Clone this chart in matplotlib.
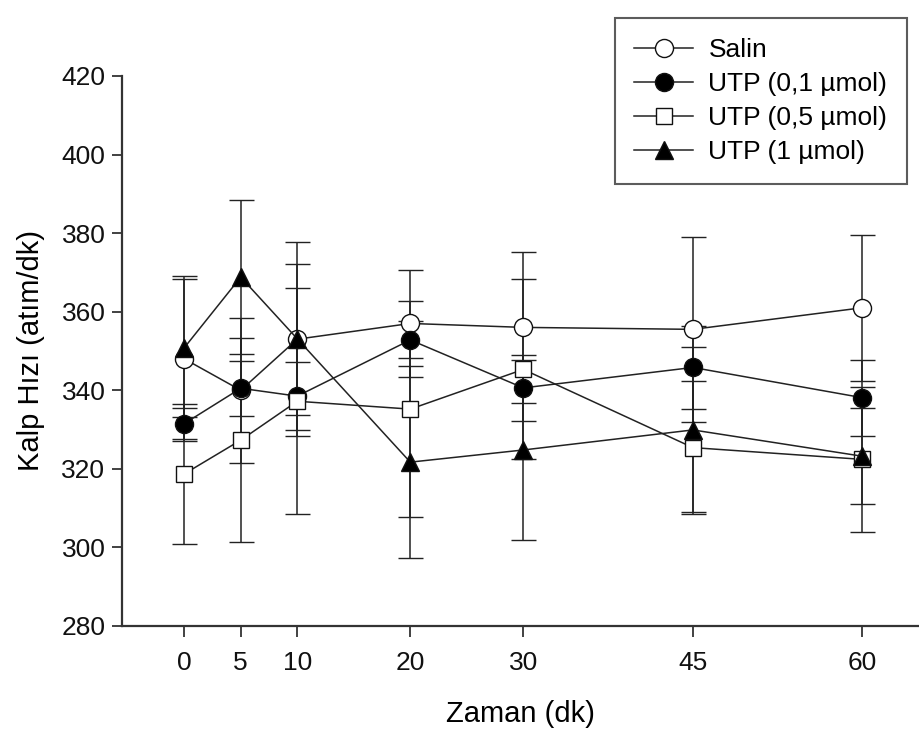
import numpy as np
import matplotlib.pyplot as plt

plt.rcParams['font.family'] = ['Liberation Sans', 'DejaVu Sans']

# time points (dk)
zaman = [0, 5, 10, 20, 30, 45, 60]

salin = [348, 340, 353, 357, 356, 355.5, 361]
salin_err = [21, 18.5, 19.2, 13.7, 19.3, 23.6, 18.6]

utp_01 = [331.5, 340.5, 338.5, 352.8, 340.6, 345.8, 338.1]
utp_01_err = [4, 7, 8.7, 4.7, 8.4, 10.5, 9.7]

utp_05 = [318.7, 327.3, 337.2, 335.2, 345.3, 325.4, 322.4]
utp_05_err = [17.8, 25.9, 28.7, 27.5, 22.9, 17, 18.5]

utp_1 = [350.8, 368.8, 353.1, 321.7, 324.8, 329.9, 323.2]
utp_1_err = [17.5, 19.5, 24.7, 24.5, 22.9, 21, 12.2]

etiketler = ['Salin', 'UTP (0,1 µmol)', 'UTP (0,5 µmol)', 'UTP (1 µmol)']
yticks = [280, 300, 320, 340, 360, 380, 400, 420]

fig = plt.figure(figsize=(9.19, 7.33), dpi=100)
ax = fig.add_axes([0.1328, 0.146, 0.8672, 0.7504])

seriler = [
    (salin, salin_err, dict(marker='o', mfc='white', ms=13)),
    (utp_01, utp_01_err, dict(marker='o', mfc='black', ms=13)),
    (utp_05, utp_05_err, dict(marker='s', mfc='white', ms=12)),
    (utp_1, utp_1_err, dict(marker='^', mfc='black', ms=13)),
]

cizgiler = []
for (y, e, stil), lab in zip(seriler, etiketler):
    c = ax.errorbar(zaman, y, yerr=e, color='#222222', lw=1.1, mec='#111111',
                    mew=1.0, elinewidth=1.1, capsize=9, capthick=1.1,
                    label=lab, **stil)
    cizgiler.append(c[0])

ax.set_xlim(-5.5, 65)
ax.set_ylim(280, 420)
ax.set_xticks(zaman)
ax.set_yticks(yticks)

for s in ['top', 'right']:
    ax.spines[s].set_visible(False)
for s in ['left', 'bottom']:
    ax.spines[s].set_linewidth(1.6)
    ax.spines[s].set_color('#333333')

ax.tick_params(axis='y', direction='out', length=7, width=1.3, pad=5,
               labelsize=19, colors='#333333', labelcolor='#111111')
ax.tick_params(axis='x', direction='out', length=8, width=1.3, pad=10,
               labelsize=19, colors='#333333', labelcolor='#111111')

ax.set_xlabel('Zaman (dk)', fontsize=21, labelpad=18)
ax.set_ylabel('Kalp Hızı (atım/dk)', fontsize=21, labelpad=12)

leg = ax.legend(cizgiler, etiketler, loc='upper right',
                bbox_to_anchor=(0.985, 1.105),
                fontsize=19, frameon=True, fancybox=False,
                edgecolor='#333333', handlelength=2.2, handletextpad=0.6,
                borderpad=0.75, labelspacing=0.38, borderaxespad=0)
leg.get_frame().set_linewidth(1.5)

fig.savefig('out.png', dpi=100, facecolor='white')
